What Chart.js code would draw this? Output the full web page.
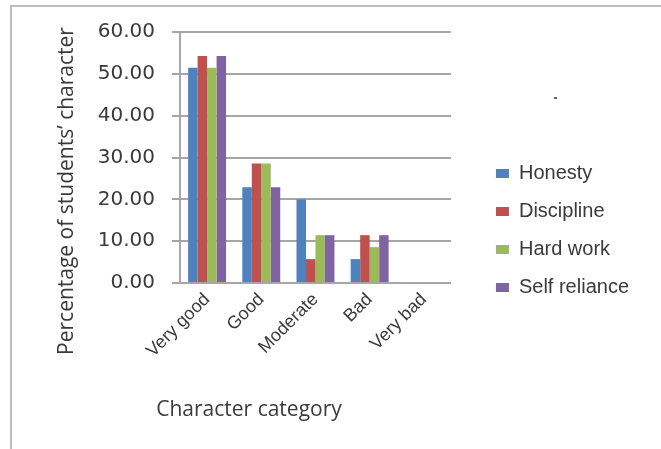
<!DOCTYPE html>
<html>
<head>
<meta charset="utf-8">
<script src="https://cdn.jsdelivr.net/npm/chart.js@4/dist/chart.umd.min.js"></script>
<style>
    html, body { margin: 0; padding: 0; background: #fff; overflow: hidden; }
    #wrap { position: relative; width: 661px; height: 449px; }
    #frame { position: absolute; left: 10px; top: 5px; width: 700px; height: 500px;
             border-left: 2px solid #bdbdbd; border-top: 2px solid #bdbdbd; pointer-events: none; }
    #speck { position: absolute; left: 554px; top: 97px; width: 3px; height: 2px; background: #666; }
</style>
</head>
<body>
<div id="wrap">
    <canvas id="chart" width="661" height="449"></canvas>
    <div id="frame"></div>
    <div id="speck"></div>
</div>
<script>
// Chart data
const categories = ['Very good', 'Good', 'Moderate', 'Bad', 'Very bad'];
const honesty = [51.43, 22.86, 20.00, 5.71, 0];
const discipline = [54.29, 28.57, 5.71, 11.43, 0];
const hardWork = [51.43, 28.57, 11.43, 8.57, 0];
const selfReliance = [54.29, 22.86, 11.43, 11.43, 0];
const yTicks = [0, 10, 20, 30, 40, 50, 60];

const xTitle = 'Character category';
const yTitle = 'Percentage of students\u2019 character';

const colors = {
    honesty: '#4f81bd',
    discipline: '#c0504d',
    hardWork: '#9bbb59',
    selfReliance: '#8064a2',
    grid: '#a6a6a6',
    text: '#3a3a3a'
};

// Axis captions sit where Excel put them, not centred on the plot
const captions = {
    id: 'captions',
    afterDraw(chart) {
        const ctx = chart.ctx;
        ctx.save();
        ctx.fillStyle = colors.text;
        ctx.font = '21px "Open Sans"';
        ctx.textAlign = 'center';
        ctx.textBaseline = 'middle';
        ctx.fillText(xTitle, 249, 410);
        ctx.translate(67, 191);
        ctx.rotate(-Math.PI / 2);
        ctx.fillText(yTitle, 0, 0);
        ctx.restore();
    }
};

const ctx = document.getElementById('chart').getContext('2d');

new Chart(ctx, {
    type: 'bar',
    data: {
        labels: categories,
        datasets: [
            { label: 'Honesty', data: honesty, backgroundColor: colors.honesty },
            { label: 'Discipline', data: discipline, backgroundColor: colors.discipline },
            { label: 'Hard work', data: hardWork, backgroundColor: colors.hardWork },
            { label: 'Self reliance', data: selfReliance, backgroundColor: colors.selfReliance }
        ]
    },
    options: {
        responsive: false,
        animation: false,
        layout: { padding: { top: 32, right: 22, bottom: 20, left: 0 } },
        datasets: {
            bar: { categoryPercentage: 0.7, barPercentage: 1.0 }
        },
        plugins: {
            tooltip: { enabled: false },
            legend: {
                position: 'right',
                maxWidth: 220,
                labels: {
                    boxWidth: 13,
                    boxHeight: 9,
                    padding: 18,
                    color: colors.text,
                    font: { family: '"Liberation Sans", Arial', size: 20 }
                }
            }
        },
        scales: {
            x: {
                grid: { display: false, drawTicks: false },
                border: { display: true, color: colors.grid, width: 2 },
                ticks: {
                    maxRotation: 45,
                    minRotation: 45,
                    padding: 6,
                    color: colors.text,
                    font: { family: '"Liberation Sans", Arial', size: 18 }
                },
                afterFit(scale) { scale.height = 146; }
            },
            y: {
                min: 0,
                max: 60,
                afterBuildTicks(scale) { scale.ticks = yTicks.map(v => ({ value: v })); },
                grid: { color: colors.grid, lineWidth: 2, tickLength: 8 },
                border: { display: true, color: colors.grid, width: 2 },
                ticks: {
                    padding: 17,
                    color: colors.text,
                    font: { family: '"DejaVu Sans"', size: 20 },
                    callback: (value) => value.toFixed(2)
                },
                afterFit(scale) { scale.width = 180; }
            },
            // empty axis, only keeps a gap between plot and legend
            gap: {
                position: 'right',
                grid: { display: false, drawTicks: false },
                border: { display: false },
                ticks: { display: false },
                afterFit(scale) { scale.width = 27; }
            }
        }
    },
    plugins: [captions]
});
</script>
</body>
</html>
